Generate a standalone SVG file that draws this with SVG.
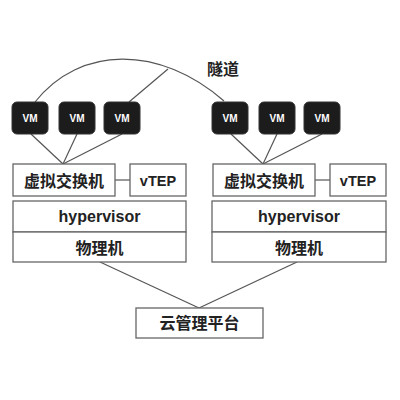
<svg xmlns="http://www.w3.org/2000/svg" width="400" height="400" viewBox="0 0 400 400">
<style>
.box{fill:#fff;stroke:#666;stroke-width:1.3}
.vm{fill:#1c1c1c;stroke:#333;stroke-width:1}
.vmt{fill:#fff;font-family:"Liberation Sans",Arial,sans-serif;font-weight:bold;font-size:10px;text-anchor:middle;dominant-baseline:central}
.t{fill:#222;font-family:"Liberation Sans","Noto Sans CJK SC",sans-serif;font-weight:bold;font-size:16px;text-anchor:middle;dominant-baseline:central}
.ln{fill:none;stroke:#555;stroke-width:1.2}
</style>
<rect width="400" height="400" fill="#fff"/>
<g id="connectors">
<path class="ln" d="M35,102 C80,45 160,45 224,101"/>
<line class="ln" x1="129" y1="102" x2="168" y2="69"/>
<line class="ln" x1="31" y1="134" x2="63" y2="164"/>
<line class="ln" x1="77" y1="134" x2="63" y2="164"/>
<line class="ln" x1="122" y1="134" x2="63" y2="164"/>
<line class="ln" x1="115" y1="180" x2="130" y2="180"/>
<line class="ln" x1="231" y1="134" x2="263" y2="164"/>
<line class="ln" x1="277" y1="134" x2="263" y2="164"/>
<line class="ln" x1="322" y1="134" x2="263" y2="164"/>
<line class="ln" x1="315" y1="180" x2="330" y2="180"/>
<line class="ln" x1="100" y1="262" x2="199" y2="308"/>
<line class="ln" x1="297" y1="262" x2="199" y2="308"/>
</g>
<text class="t" x="223" y="69">隧道</text>
<g id="vm1"><rect class="vm" x="12" y="102" width="36" height="32" rx="5"/><text class="vmt" x="30" y="118">VM</text></g>
<g id="vm2"><rect class="vm" x="59" y="102" width="36" height="32" rx="5"/><text class="vmt" x="77" y="118">VM</text></g>
<g id="vm3"><rect class="vm" x="104" y="102" width="36" height="32" rx="5"/><text class="vmt" x="122" y="118">VM</text></g>
<g id="vm4"><rect class="vm" x="212" y="102" width="36" height="32" rx="5"/><text class="vmt" x="230" y="118">VM</text></g>
<g id="vm5"><rect class="vm" x="259" y="102" width="36" height="32" rx="5"/><text class="vmt" x="277" y="118">VM</text></g>
<g id="vm6"><rect class="vm" x="304" y="102" width="36" height="32" rx="5"/><text class="vmt" x="322" y="118">VM</text></g>
<g id="switch1"><rect class="box" x="13" y="164" width="102" height="32"/><text class="t" x="64" y="181">虚拟交换机</text></g>
<g id="vtep1"><rect class="box" x="130" y="164" width="56" height="32"/><text class="t" style="font-size:14.5px" x="158" y="181">vTEP</text></g>
<g id="switch2"><rect class="box" x="213" y="164" width="102" height="32"/><text class="t" x="264" y="181">虚拟交换机</text></g>
<g id="vtep2"><rect class="box" x="330" y="164" width="56" height="32"/><text class="t" style="font-size:14.5px" x="358" y="181">vTEP</text></g>
<g id="hyp1"><rect class="box" x="13" y="201" width="173" height="31"/><text class="t" x="99.5" y="216.5">hypervisor</text></g>
<g id="phy1"><rect class="box" x="13" y="232" width="173" height="30"/><text class="t" x="99.5" y="248">物理机</text></g>
<g id="hyp2"><rect class="box" x="212" y="201" width="174" height="31"/><text class="t" x="299" y="216.5">hypervisor</text></g>
<g id="phy2"><rect class="box" x="212" y="232" width="174" height="30"/><text class="t" x="299" y="248">物理机</text></g>
<g id="cloud"><rect class="box" x="136" y="308" width="127" height="30"/><text class="t" x="199.5" y="323.5">云管理平台</text></g>
</svg>
